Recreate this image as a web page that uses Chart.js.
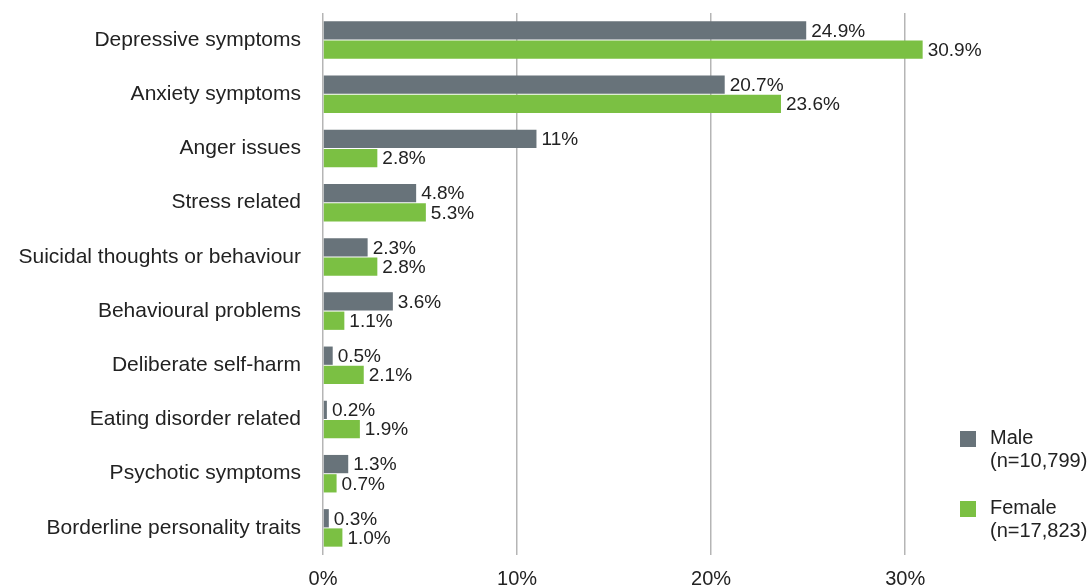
<!DOCTYPE html>
<html>
<head>
<meta charset="utf-8">
<script src="https://cdn.jsdelivr.net/npm/chart.js@4.4.1/dist/chart.umd.min.js"></script>
<style>
  html, body { margin: 0; padding: 0; background: #fff; }
  #wrap { position: relative; width: 1092px; height: 588px; }
  .legend { position: absolute; left: 960px; font-family: "Liberation Sans", Arial, sans-serif; font-size: 20px; color: #222; line-height: 23px; }
  .legend .sw { position: absolute; left: 0; top: 5px; width: 16px; height: 16px; }
  .legend .txt { margin-left: 30px; }
</style>
</head>
<body>
<div id="wrap">
  <canvas id="chart" width="1092" height="588"></canvas>
  <div class="legend" style="top:426px"><div class="sw" style="background:#68737a"></div><div class="txt">Male<br>(n=10,799)</div></div>
  <div class="legend" style="top:496px"><div class="sw" style="background:#7bc043"></div><div class="txt">Female<br>(n=17,823)</div></div>
</div>
<script>
const categories = [
    'Depressive symptoms',
    'Anxiety symptoms',
    'Anger issues',
    'Stress related',
    'Suicidal thoughts or behaviour',
    'Behavioural problems',
    'Deliberate self-harm',
    'Eating disorder related',
    'Psychotic symptoms',
    'Borderline personality traits'
];
const maleValues = [24.9, 20.7, 11, 4.8, 2.3, 3.6, 0.5, 0.2, 1.3, 0.3];
const femaleValues = [30.9, 23.6, 2.8, 5.3, 2.8, 1.1, 2.1, 1.9, 0.7, 1.0];
const xTicks = [0, 10, 20, 30];

const FONT = '"Liberation Sans", Arial, sans-serif';

function fmt(v) {
    // whole values of 10+ are printed without a decimal (e.g. "11%")
    return (Number.isInteger(v) && v >= 10) ? v + '%' : v.toFixed(1) + '%';
}

// prints each bar's value just past its end
const valueLabels = {
    id: 'valueLabels',
    afterDatasetsDraw(chart) {
        const ctx = chart.ctx;
        ctx.save();
        ctx.font = '19px ' + FONT;
        ctx.fillStyle = '#222';
        ctx.textAlign = 'left';
        ctx.textBaseline = 'middle';
        chart.data.datasets.forEach((ds, i) => {
            chart.getDatasetMeta(i).data.forEach((bar, j) => {
                ctx.fillText(fmt(ds.data[j]), bar.x + 5, bar.y + 1);
            });
        });
        ctx.restore();
    }
};

new Chart(document.getElementById('chart'), {
    type: 'bar',
    data: {
        labels: categories,
        datasets: [
            { label: 'Male (n=10,799)', data: maleValues, backgroundColor: '#68737a' },
            { label: 'Female (n=17,823)', data: femaleValues, backgroundColor: '#7bc043' }
        ]
    },
    options: {
        indexAxis: 'y',
        responsive: false,
        animation: false,
        layout: { padding: { top: 13, right: 148, left: 0, bottom: 0 } },
        datasets: { bar: { barPercentage: 0.95, categoryPercentage: 0.71 } },
        plugins: { legend: { display: false }, tooltip: { enabled: false } },
        scales: {
            x: {
                min: 0,
                max: 32,
                afterBuildTicks: scale => {
                    scale.ticks = xTicks.map(v => ({ value: v }));
                },
                afterFit: scale => { scale.height = 33; },
                border: { display: false },
                grid: { color: '#b5b5b5', lineWidth: 1.5, drawTicks: false },
                ticks: {
                    padding: 12,
                    color: '#222',
                    font: { family: FONT, size: 20 },
                    callback: v => v + '%'
                }
            },
            y: {
                afterFit: scale => {
                    scale.width = 323;
                    scale.paddingTop = 0;
                    scale.paddingBottom = 0;
                },
                border: { display: false },
                grid: { display: false, drawTicks: false },
                ticks: {
                    padding: 22,
                    color: '#222',
                    font: { family: FONT, size: 21 }
                }
            }
        }
    },
    plugins: [valueLabels]
});
</script>
</body>
</html>
